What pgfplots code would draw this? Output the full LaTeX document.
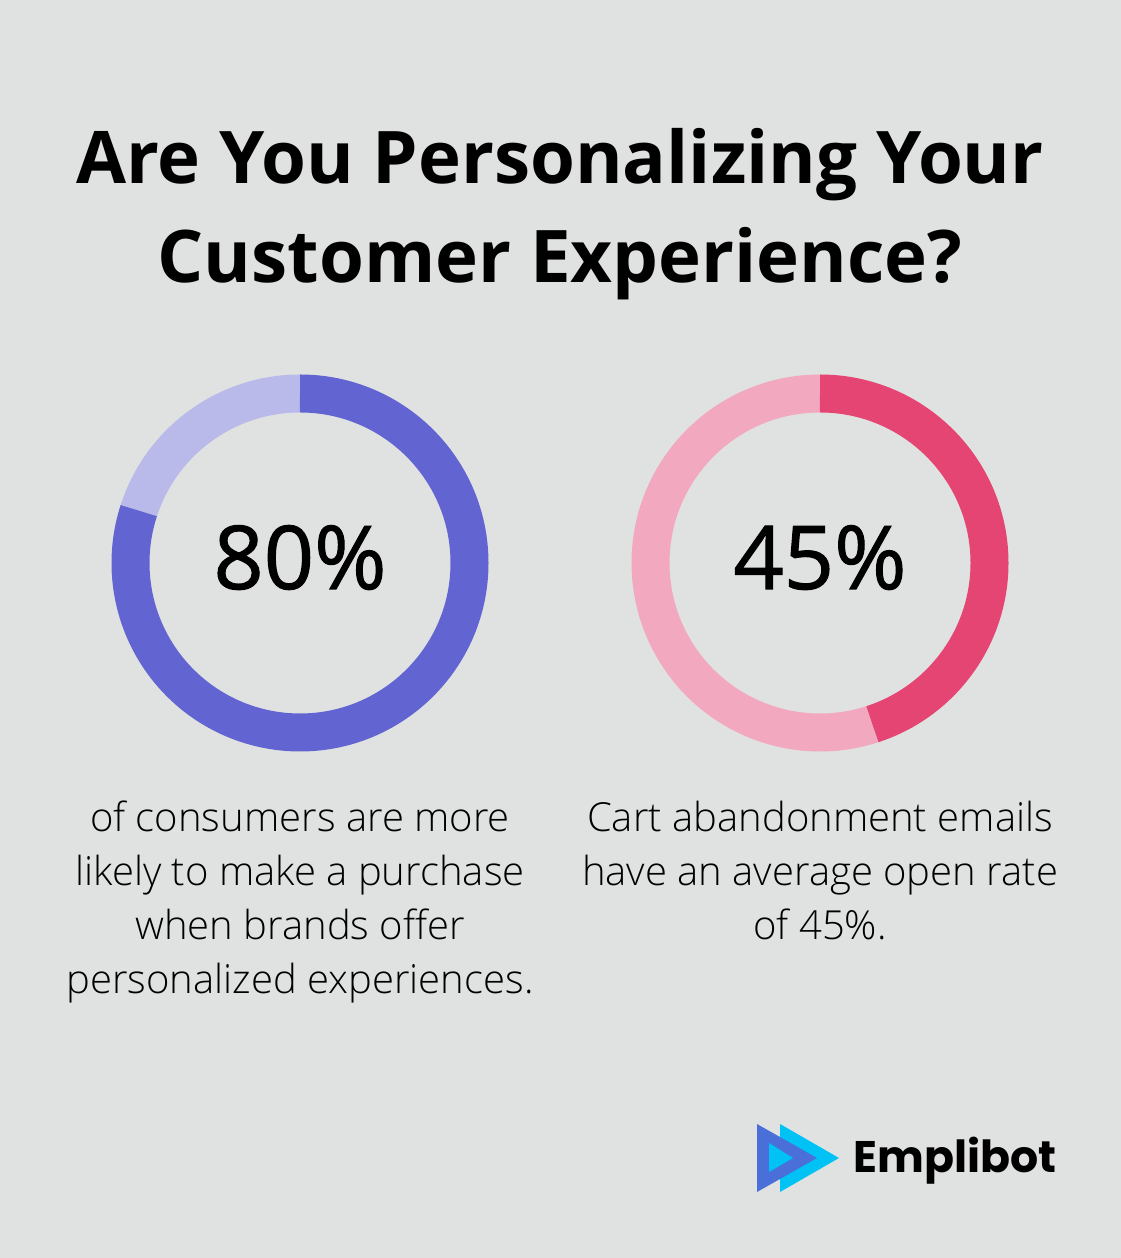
\documentclass[border=0pt]{standalone}
\usepackage{pgfplots}
\pgfplotsset{compat=1.18}
\usepackage{fontspec}
\setmainfont{Open Sans}
\newfontfamily\lightfont{Open Sans Light}
\newfontfamily\numfont{Open Sans}[FakeBold=1.2]
\newfontfamily\poppins{Poppins}
\definecolor{bg}{HTML}{E0E2E1}
\definecolor{blueD}{HTML}{6265D1}
\definecolor{blueL}{HTML}{B9BAE9}
\definecolor{pinkD}{HTML}{E44573}
\definecolor{pinkL}{HTML}{F2A9BF}
\definecolor{logoD}{HTML}{4A6FD8}
\definecolor{logoL}{HTML}{00C2F5}
\def\valA{80}
\def\valB{45}
\begin{document}
\begin{tikzpicture}
\begin{axis}[hide axis, scale only axis, width=560pt, height=629pt,
  xmin=0, xmax=1120, ymin=0, ymax=1258, clip=false]
\fill[bg] (axis cs:-6,-6) rectangle (axis cs:1126,1264);
% title
\node[anchor=base, font=\bfseries\fontsize{36.3}{44}\selectfont] at (axis cs:560,1074) {Are You Personalizing Your};
\node[anchor=base, font=\bfseries\fontsize{36.3}{44}\selectfont] at (axis cs:560,975) {Customer Experience?};
% donut 1
\pgfmathsetmacro{\endA}{90-3.6*\valA}
\draw[blueL, line width=19pt] (axis cs:300,695) ++(90:84.75pt) arc[start angle=90, end angle=\endA+360, radius=84.75pt];
\draw[blueD, line width=19pt] (axis cs:300,695) ++(90:84.75pt) arc[start angle=90, end angle=\endA, radius=84.75pt];
% donut 2
\pgfmathsetmacro{\endB}{90-3.6*\valB}
\draw[pinkL, line width=19pt] (axis cs:820,695) ++(90:84.75pt) arc[start angle=90, end angle=\endB+360, radius=84.75pt];
\draw[pinkD, line width=19pt] (axis cs:820,695) ++(90:84.75pt) arc[start angle=90, end angle=\endB, radius=84.75pt];
\node[anchor=base, font=\numfont\fontsize{44}{50}\selectfont] at (axis cs:300,669) {\valA\%};
\node[anchor=base, font=\numfont\fontsize{44}{50}\selectfont] at (axis cs:820,669) {\valB\%};
% texts
\tikzset{bt/.style={anchor=base, font=\lightfont\fontsize{20}{27}\selectfont}}
\node[bt] at (axis cs:300,426) {of consumers are more};
\node[bt] at (axis cs:300,372) {likely to make a purchase};
\node[bt] at (axis cs:300,318) {when brands offer};
\node[bt] at (axis cs:300,264) {personalized experiences.};
\node[bt] at (axis cs:820,426) {Cart abandonment emails};
\node[bt] at (axis cs:820,372) {have an average open rate};
\node[bt] at (axis cs:820,318) {of 45\%.};
% logo
\fill[logoL] (axis cs:780,134) -- (axis cs:780,66) -- (axis cs:839,100) -- cycle;
\fill[logoD] (axis cs:757,134) -- (axis cs:757,66) -- (axis cs:817,100) -- cycle;
\fill[logoL] (axis cs:769,115) -- (axis cs:769,86) -- (axis cs:793,100) -- cycle;
\node[anchor=base west, font=\poppins\bfseries\fontsize{22.1}{26}\selectfont, inner sep=0pt] at (axis cs:853,85) {Emplibot};
\coordinate (LL) at (axis cs:0,0);
\coordinate (UR) at (axis cs:1120,1258);
\end{axis}
\pgfresetboundingbox
\path[use as bounding box] (LL) rectangle (UR);
\end{tikzpicture}
\end{document}
